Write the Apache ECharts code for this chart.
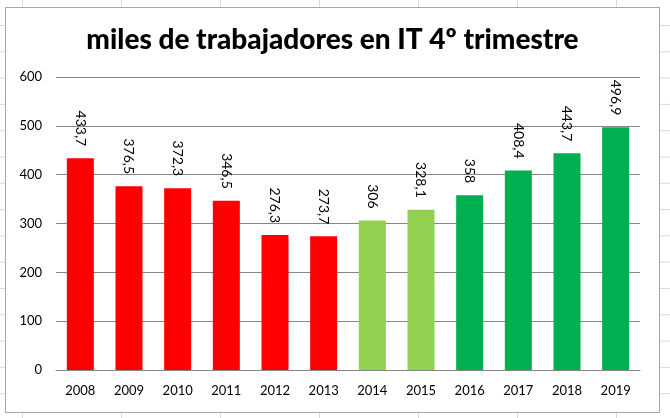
<!DOCTYPE html>
<html>
<head>
<meta charset="utf-8">
<script src="https://cdn.jsdelivr.net/npm/echarts@6/dist/echarts.min.js"></script>
<style>
  html, body { margin: 0; padding: 0; width: 670px; height: 418px; overflow: hidden; }
  body {
    background-color: #fff;
    background-image:
      linear-gradient(to right, #d9d9d9 1px, transparent 1px),
      linear-gradient(to bottom, #d9d9d9 1px, transparent 1px);
    background-size: 99px 26.3px;
    background-position: 22px 25px;
  }
  #chart {
    position: absolute; left: 5px; top: 7px;
    width: 653px; height: 404px;
    border: 1px solid #a6a6a6; background: #fff;
  }
</style>
</head>
<body>
<div id="chart"></div>
<script>
const years = ['2008', '2009', '2010', '2011', '2012', '2013', '2014', '2015', '2016', '2017', '2018', '2019'];
const workers = [433.7, 376.5, 372.3, 346.5, 276.3, 273.7, 306, 328.1, 358, 408.4, 443.7, 496.9];
const barColors = ['#FF0000', '#FF0000', '#FF0000', '#FF0000', '#FF0000', '#FF0000',
    '#92D050', '#92D050', '#00B050', '#00B050', '#00B050', '#00B050'];

const font = 'Lato, "Open Sans", sans-serif';

function init() {
    const chart = echarts.init(document.getElementById('chart'), null, {renderer: 'canvas'});
    const option = {
        animation: false,
        title: {
            text: 'miles de trabajadores en IT 4º trimestre',
            left: 'center',
            top: 13,
            textStyle: {
                fontFamily: font,
                fontWeight: 900,
                fontSize: 28,
                color: '#000'
            }
        },
        grid: {
            left: 50,
            right: 19,
            top: 69,
            bottom: 42
        },
        xAxis: {
            type: 'category',
            data: years,
            axisTick: { show: false },
            axisLine: { lineStyle: { color: '#868686', width: 1 } },
            axisLabel: {
                color: '#000',
                fontFamily: font,
                fontSize: 13,
                margin: 14
            }
        },
        yAxis: {
            type: 'value',
            min: 0,
            max: 600,
            interval: 100,
            axisLine: { show: false },
            axisTick: { show: false },
            splitLine: { lineStyle: { color: '#868686', width: 1 } },
            axisLabel: {
                color: '#000',
                fontFamily: font,
                fontSize: 13,
                margin: 14
            }
        },
        series: [{
            type: 'bar',
            barWidth: 27,
            data: workers.map((v, i) => ({ value: v, itemStyle: { color: barColors[i] } })),
            label: {
                show: true,
                position: 'top',
                rotate: -90,
                align: 'right',
                verticalAlign: 'middle',
                distance: 12,
                color: '#000',
                fontFamily: font,
                fontSize: 14,
                formatter: function (p) {
                    return String(p.value).replace('.', ',');
                }
            }
        }]
    };
    chart.setOption(option);
}

init();
</script>
</body>
</html>
